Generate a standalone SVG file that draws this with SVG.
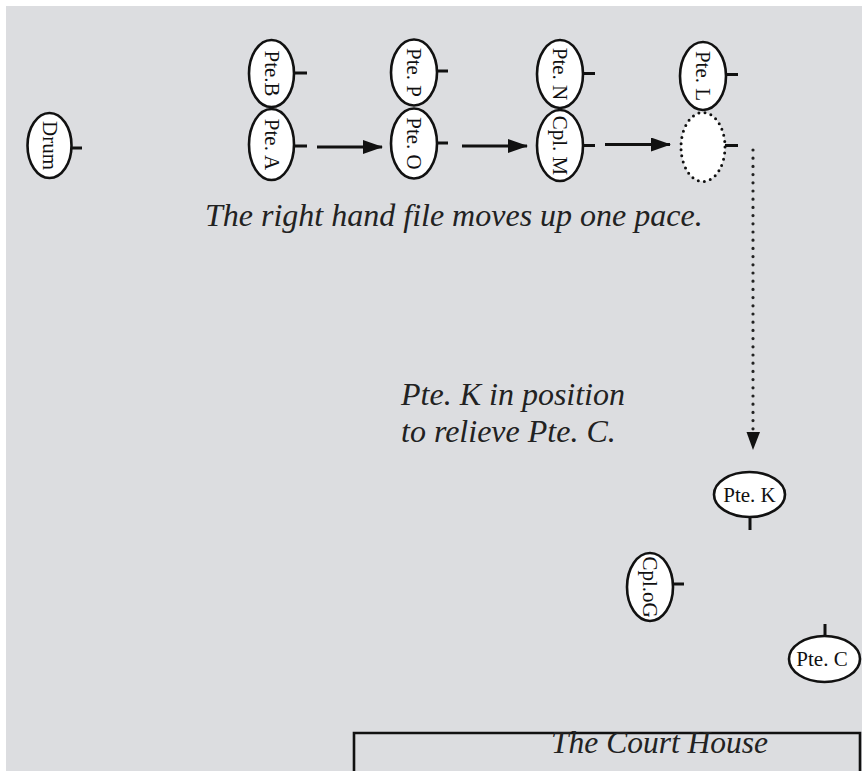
<svg xmlns="http://www.w3.org/2000/svg" width="862" height="771" viewBox="0 0 862 771">
<defs>
<style>
.bg{fill:#dcdde0}
.node{fill:#ffffff;stroke:#111;stroke-width:2.6}
.dotted{fill:#ffffff;stroke:#111;stroke-width:3;stroke-dasharray:0 6.2;stroke-linecap:round}
.tick{stroke:#111;stroke-width:3;fill:none}
.lbl{font-family:"Liberation Serif","Times New Roman",serif;font-size:21px;fill:#111;text-anchor:middle}
.cap{font-family:"Liberation Serif","Times New Roman",serif;font-style:italic;font-size:32px;fill:#222}
.arrow{stroke:#111;stroke-width:3;fill:none}
.dots{stroke:#222;stroke-width:3.2;stroke-dasharray:0 8.2;stroke-linecap:round;fill:none}
</style>
<marker id="ah" markerWidth="20" markerHeight="14" refX="19" refY="7" orient="auto" markerUnits="userSpaceOnUse">
<path d="M0,0 L20,7 L0,14 Z" fill="#111"/>
</marker>
</defs>
<rect class="bg" x="6" y="6" width="856" height="765"/>

<g id="drum">
<ellipse class="node" cx="49.5" cy="145.5" rx="22" ry="32.5"/>
<line class="tick" x1="72" y1="148" x2="82" y2="148"/>
<text class="lbl" transform="translate(49.5,145.5) rotate(90)" x="0" y="7">Drum</text>
</g>

<g id="pte-b">
<ellipse class="node" cx="271.5" cy="73.5" rx="22.5" ry="33.5"/>
<line class="tick" x1="294" y1="73" x2="307" y2="73"/>
<text class="lbl" transform="translate(271.5,73.5) rotate(90)" x="0" y="7">Pte.B</text>
</g>
<g id="pte-a">
<ellipse class="node" cx="271.5" cy="144.5" rx="22.5" ry="35.5"/>
<line class="tick" x1="294" y1="146" x2="307" y2="146"/>
<text class="lbl" transform="translate(271.5,144.5) rotate(90)" x="0" y="7">Pte. A</text>
</g>

<g id="pte-p">
<ellipse class="node" cx="414" cy="72.5" rx="23" ry="33"/>
<line class="tick" x1="437" y1="71" x2="448" y2="71"/>
<text class="lbl" transform="translate(414,72.5) rotate(90)" x="0" y="7">Pte. P</text>
</g>
<g id="pte-o">
<ellipse class="node" cx="414" cy="143.5" rx="23" ry="35"/>
<line class="tick" x1="437" y1="143" x2="448" y2="143"/>
<text class="lbl" transform="translate(414,143.5) rotate(90)" x="0" y="7">Pte. O</text>
</g>

<g id="pte-n">
<ellipse class="node" cx="560" cy="74" rx="23" ry="34"/>
<line class="tick" x1="583" y1="73.5" x2="595" y2="73.5"/>
<text class="lbl" transform="translate(560,74) rotate(90)" x="0" y="7">Pte. N</text>
</g>
<g id="cpl-m">
<ellipse class="node" cx="560" cy="145.5" rx="23" ry="35.5"/>
<line class="tick" x1="583" y1="145.5" x2="595" y2="145.5"/>
<text class="lbl" transform="translate(560,145.5) rotate(90)" x="0" y="7">Cpl. M</text>
</g>

<g id="pte-l">
<ellipse class="node" cx="703" cy="76" rx="23" ry="34"/>
<line class="tick" x1="726" y1="74.5" x2="738" y2="74.5"/>
<text class="lbl" transform="translate(703,76) rotate(90)" x="0" y="7">Pte. L</text>
</g>
<g id="empty-place">
<ellipse class="dotted" cx="703" cy="147" rx="22" ry="34.5"/>
<line class="tick" x1="725" y1="145.5" x2="738" y2="145.5"/>
</g>

<g id="pte-k">
<ellipse class="node" cx="749.5" cy="494.5" rx="35.5" ry="22.5"/>
<line class="tick" x1="750" y1="517" x2="750" y2="530"/>
<text class="lbl" x="749.5" y="502">Pte. K</text>
</g>

<g id="cpl-g">
<ellipse class="node" cx="650" cy="587" rx="23" ry="34"/>
<line class="tick" x1="673" y1="584" x2="684" y2="584"/>
<text class="lbl" transform="translate(650,587) rotate(90)" x="0" y="7">Cpl.oG</text>
</g>

<g id="pte-c">
<ellipse class="node" cx="824.5" cy="659" rx="35.5" ry="23"/>
<line class="tick" x1="825" y1="624" x2="825" y2="636"/>
<text class="lbl" x="822" y="666">Pte. C</text>
</g>

<g id="court-house">
<path d="M354,771 L354,733 L860,733 L860,771" fill="none" stroke="#111" stroke-width="2.6"/>
<text class="cap" x="551" y="753" style="font-size:31.5px">The Court House</text>
</g>

<g id="connectors">
<line class="arrow" x1="317" y1="147" x2="382" y2="147" marker-end="url(#ah)"/>
<line class="arrow" x1="462" y1="146" x2="527" y2="146" marker-end="url(#ah)"/>
<line class="arrow" x1="605" y1="144.5" x2="670" y2="144.5" marker-end="url(#ah)"/>
<line class="dots" x1="753" y1="150" x2="753" y2="431"/>
<path d="M746.5,432 L760,432 L753,450 Z" fill="#111"/>
</g>

<g id="captions">
<text class="cap" x="205" y="226">The right hand file moves up one pace.</text>
<text class="cap" x="401" y="405">Pte. K in position</text>
<text class="cap" x="401" y="442">to relieve Pte. C.</text>
</g>
</svg>
